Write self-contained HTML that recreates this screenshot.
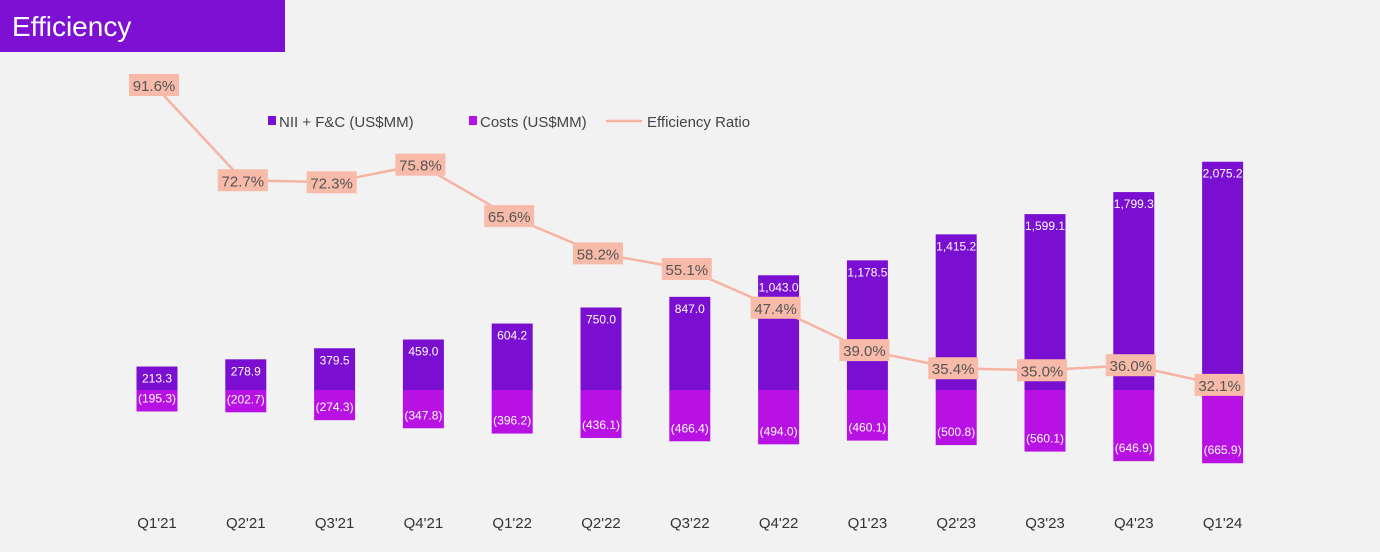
<!DOCTYPE html>
<html><head><meta charset="utf-8"><style>
body{margin:0;width:1380px;height:552px;background:#f2f2f2;overflow:hidden;font-family:"Liberation Sans",sans-serif}
#title{position:absolute;left:0;top:0;width:285px;height:52px;background:#7d10d3;color:#fff;font-size:28px;line-height:54px;padding-left:12px;box-sizing:border-box}
svg{position:absolute;left:0;top:0}
</style></head><body>
<div id="title">Efficiency</div>
<svg id="chart" width="1380" height="552"></svg>
<script>
const categories=["Q1'21","Q2'21","Q3'21","Q4'21","Q1'22","Q2'22","Q3'22","Q4'22","Q1'23","Q2'23","Q3'23","Q4'23","Q1'24"];
const revenue=[213.3,278.9,379.5,459.0,604.2,750.0,847.0,1043.0,1178.5,1415.2,1599.1,1799.3,2075.2];
const costs=[195.3,202.7,274.3,347.8,396.2,436.1,466.4,494.0,460.1,500.8,560.1,646.9,665.9];
const ratio=[91.6,72.7,72.3,75.8,65.6,58.2,55.1,47.4,39.0,35.4,35.0,36.0,32.1];
const NS="http://www.w3.org/2000/svg";
const svg=document.getElementById('chart');
const xC=i=>157+i*88.8;
const yV=v=>390-v*0.11;
const yR=r=>85+(91.6-r)*5.04;
function el(t,a,p){const e=document.createElementNS(NS,t);for(const k in a)e.setAttribute(k,a[k]);(p||svg).appendChild(e);return e;}
const fmt=v=>v.toLocaleString('en-US',{minimumFractionDigits:1,maximumFractionDigits:1});
categories.forEach((c,i)=>{
  const x=xC(i),w=41;
  const b=el('rect',{x:x-w/2,y:yV(revenue[i]),width:w,height:390-yV(revenue[i]),fill:'#7a0fd2'});
  
  
  const cb=el('rect',{x:x-w/2,y:390,width:w,height:costs[i]*0.11,fill:'#b712e3'});
  
  
  const t1=el('text',{x:x,y:yV(revenue[i])+16,'text-anchor':'middle','font-size':12,fill:'#fff'});t1.textContent=fmt(revenue[i]);
  
  
  const t2=el('text',{x:x,y:390+costs[i]*0.11-9,'text-anchor':'middle','font-size':12,fill:'#fff'});t2.textContent='('+fmt(costs[i])+')';
  
  
  const t3=el('text',{x:x,y:528,'text-anchor':'middle','font-size':15,fill:'#333'});t3.textContent=c;
  
  
});
const pts=ratio.map((r,i)=>[xC(i)-3,yR(r)]);
const line=el('polyline',{points:pts.map(p=>p.join(',')).join(' '),fill:'none',stroke:'#f7b3a2','stroke-width':2.5});


ratio.forEach((r,i)=>{
  const [x,y]=pts[i];
  const bg=el('rect',{x:x-25,y:y-11,width:50,height:22,fill:'#f8bba9'});
  
  
  const t=el('text',{x:x,y:y+6,'text-anchor':'middle','font-size':15,fill:'#555'});t.textContent=r.toFixed(1)+'%';
  
  
});
const legend=[['rect','#7a0fd2','NII + F&C (US$MM)',268],['rect','#b712e3','Costs (US$MM)',469],['line','#f7b3a2','Efficiency Ratio',612]];
legend.forEach(([k,c,l,x])=>{
  const g=el('g',{});
  
  
  if(k==='rect')el('rect',{x:x,y:116,width:8,height:9,fill:c},g);
  else el('line',{x1:x-6,y1:121,x2:x+30,y2:121,stroke:c,'stroke-width':2.5},g);
  const t=el('text',{x:k==='rect'?x+11:x+35,y:127,'font-size':15,fill:'#444'},g);t.textContent=l;
});
</script>
</body></html>
